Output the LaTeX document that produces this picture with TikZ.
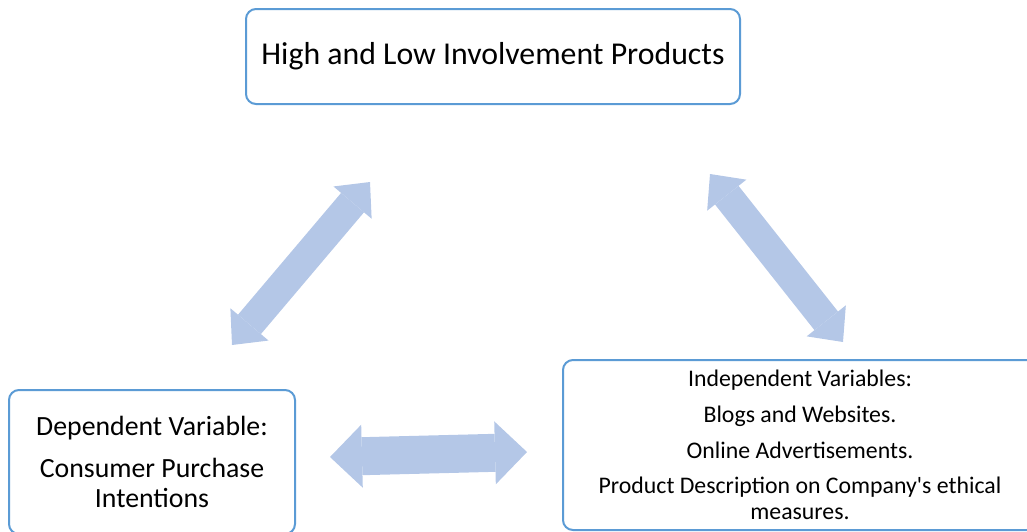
\documentclass[tikz,border=0pt]{standalone}
\usepackage{fontspec}
\setmainfont[Ligatures=TeXOff]{Carlito}
\usetikzlibrary{arrows.meta}
\definecolor{boxline}{RGB}{91,155,213}
\definecolor{arrowfill}{RGB}{180,199,231}

\begin{document}
\begin{tikzpicture}[x=1pt,y=-1pt]
  \tikzstyle{box}=[rectangle,rounded corners=10pt,draw=boxline,line width=2pt,
              fill=white,align=center,inner sep=0pt]
  \tikzstyle{fatarrow}=[draw=arrowfill,line width=30pt,
              {Triangle[length=27pt,width=50pt,line width=0pt]}-{Triangle[length=27pt,width=50pt,line width=0pt]}]
    \useasboundingbox (0,0) rectangle (1027,531);
    % boxes
    \node [box,minimum width=494pt,minimum height=95pt,
      font=\fontsize{31.8}{36}\selectfont] (prod) at (493,56.5)
      {High and Low Involvement Products};
    \node [box,minimum width=286pt,minimum height=144pt,
      font=\fontsize{27.8}{30}\selectfont] (dep) at (152,462)
      {Dependent Variable:\\[12pt] Consumer Purchase\\ Intentions};
    \node [box,minimum width=474pt,minimum height=170pt,
      font=\fontsize{23.8}{26}\selectfont] (indep) at (800,445)
      {Independent Variables:\\[10pt] Blogs and Websites.\\[10pt]
       Online Advertisements.\\[9pt] Product Description on Company's ethical\\ measures.};
    % arrows
    \coordinate (a1s) at (232,345);
    \coordinate (a1e) at (370,182);
    \coordinate (a2s) at (710,174);
    \coordinate (a2e) at (843,342);
    \coordinate (a3s) at (330,457);
    \coordinate (a3e) at (527,452);
    \draw [fatarrow] (a1s) -- (a1e);
    \draw [fatarrow] (a2s) -- (a2e);
    \draw [fatarrow,line width=38pt,
      {Triangle[length=32pt,width=63pt,line width=0pt]}-{Triangle[length=32pt,width=63pt,line width=0pt]}] (a3s) -- (a3e);
\end{tikzpicture}
\end{document}
